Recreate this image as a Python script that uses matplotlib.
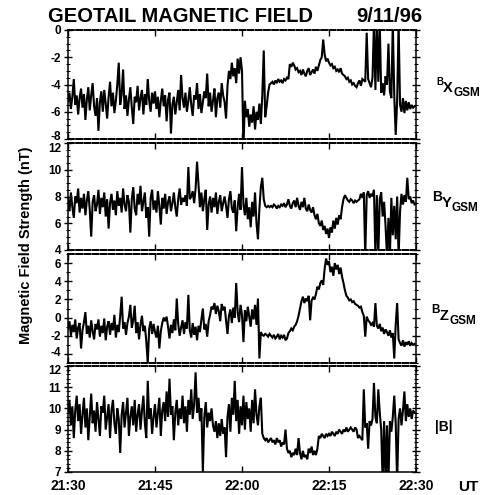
import numpy as np
import matplotlib
matplotlib.use("Agg")
import matplotlib.pyplot as plt
from matplotlib.ticker import MultipleLocator, FixedLocator
import matplotlib.transforms as mtransforms

plt.rcParams['font.family'] = ['Liberation Sans', 'DejaVu Sans']
plt.rcParams['axes.unicode_minus'] = False

# ---- data (minutes after 21:30 UT, 15 s sampling) ----
bx = [
 -5.2,-4.6,-5.8,-4.9,-3.6,-5.5,-4.8,-6.2,-5.0,-4.3,-5.7,-4.7,-6.6,-5.1,-4.2,-5.9,-4.8,-3.9,-5.6,-6.3,
 -5.0,-7.4,-5.3,-4.5,-6.0,-4.4,-5.4,-6.5,-4.9,-3.8,-5.6,-4.6,-6.1,-5.2,-4.0,-2.4,-5.5,-4.7,-2.9,-5.8,
 -4.8,-6.3,-5.1,-4.2,-5.7,-6.9,-4.9,-5.3,-4.1,-5.9,-5.0,-4.4,-6.2,-4.7,-5.5,-3.6,-5.2,-6.0,-4.6,-5.4,
 -4.5,-5.8,-4.9,-6.4,-5.2,-4.3,-5.6,-4.8,-6.7,-5.1,-4.6,-7.6,-5.5,-4.9,-6.2,-5.3,-4.4,-5.9,-3.3,-5.0,
 -5.7,-4.6,-6.0,-5.2,-4.2,-5.5,-6.3,-4.8,-5.1,-3.9,-5.8,-4.7,-6.1,-5.3,-4.5,-5.0,-3.2,-5.6,-4.6,-6.0,
 -5.2,-4.3,-6.4,-5.0,-4.6,-5.7,-3.9,-4.8,-5.3,-6.5,-4.1,-3.0,-3.6,-2.4,-3.4,-2.8,-3.9,-2.1,-3.2,-2.0,
 -3.0,-8.6,-5.2,-6.4,-5.8,-7.1,-6.2,-6.8,-5.6,-7.3,-6.0,-6.6,-5.4,-6.9,-4.8,-1.5,-6.4,-5.6,-4.6,-4.0,
 -3.9,-3.8,-4.0,-3.7,-3.9,-3.6,-3.8,-3.7,-3.9,-3.6,-3.7,-3.5,-3.6,-2.5,-2.7,-2.4,-2.6,-2.9,-2.8,-3.1,
 -3.0,-3.3,-2.9,-3.2,-3.4,-3.0,-2.8,-3.3,-3.1,-2.9,-3.2,-2.7,-3.0,-2.6,-2.2,-2.0,-0.7,-1.8,-2.3,-2.1,
 -2.4,-2.6,-2.5,-2.8,-2.7,-3.0,-2.9,-3.1,-2.8,-3.2,-3.3,-3.4,-3.6,-3.5,-3.8,-3.7,-4.0,-3.9,-4.1,-4.2,
 -3.9,-3.7,-4.1,-3.6,-3.7,-3.8,-0.2,-3.6,-3.9,-4.2,-3.5,0.5,-4.4,0.5,-3.8,0.5,-4.6,-3.9,-4.8,-3.4,
 -4.0,-1.0,-4.5,-5.0,0.5,-4.8,-7.7,-5.2,0.5,-5.5,-6.0,-5.0,-6.1,-5.2,-5.9,-5.3,-5.8,-5.5,-5.7,-5.6,
]
by = [
 7.8,6.9,8.3,7.2,6.4,8.0,7.5,8.6,6.8,7.9,7.1,8.2,6.6,7.7,8.4,7.0,5.0,7.6,8.1,6.9,
 7.4,8.5,6.7,7.9,7.2,8.3,6.5,7.8,5.6,7.5,8.2,7.0,7.7,6.6,8.4,7.3,7.9,6.8,8.6,7.4,
 6.9,8.1,7.6,5.3,7.8,8.7,7.1,6.6,8.2,7.4,8.8,6.9,7.6,8.3,6.4,7.2,5.0,7.9,8.5,7.0,
 7.7,6.8,8.4,7.3,5.9,7.9,7.1,8.2,6.7,7.6,8.0,6.9,7.5,8.3,7.2,6.5,7.8,8.6,7.4,7.9,
 7.6,8.1,7.3,10.2,7.8,8.0,8.4,7.5,8.6,10.6,8.9,7.2,8.3,6.9,7.8,8.5,5.5,7.4,8.0,6.8,
 7.9,7.2,8.3,6.7,7.6,8.1,6.9,7.5,8.0,7.3,6.4,7.8,8.4,7.1,6.8,7.7,5.4,7.2,8.2,7.0,
 10.2,7.4,6.6,7.9,6.3,7.2,5.7,7.6,6.5,8.3,6.0,4.8,7.1,8.7,9.4,7.8,7.3,7.2,7.3,7.2,
 7.3,7.2,7.4,7.3,7.1,7.3,7.2,7.4,7.3,7.5,7.2,7.4,7.8,7.3,7.1,7.5,7.7,7.2,7.9,7.3,
 7.0,7.6,7.2,7.9,7.1,6.9,7.4,7.0,6.8,7.2,6.6,6.3,6.7,6.0,5.8,6.2,5.5,5.8,5.2,5.6,
 4.9,5.7,5.3,6.2,5.6,6.4,5.9,6.6,6.3,7.2,7.8,8.1,7.9,7.7,7.6,7.8,7.7,7.5,7.7,7.6,
 7.7,7.8,8.2,7.9,8.3,3.5,8.1,8.4,7.9,8.2,8.0,8.5,3.5,8.1,3.5,7.8,8.3,6.5,7.6,5.8,
 3.5,6.4,3.5,7.9,5.1,7.3,4.8,8.0,3.5,6.9,8.2,7.4,8.1,7.6,9.4,7.8,8.0,7.5,7.7,7.4,
]
bz = [
 -1.2,-0.4,-2.0,-0.8,-1.6,-0.2,-2.3,-1.1,-0.6,-3.4,-1.4,-0.5,0.6,-1.8,-0.9,-2.2,-0.3,-1.5,-2.4,-0.7,
 -1.3,-0.2,-2.1,-0.9,-1.7,-0.1,-2.5,-1.0,-0.4,-1.9,-0.6,-1.4,0.3,-2.2,-0.8,-1.6,0.2,2.3,-1.2,-0.5,
 -1.9,-0.6,0.1,1.4,-1.1,-0.3,1.3,-1.7,-0.5,-2.4,-0.8,0.2,-1.5,-0.9,-2.6,-5.0,-1.2,-0.4,-1.8,-0.7,
 -1.6,-2.2,-0.9,-3.4,-1.5,-0.6,0.0,-0.4,0.1,-1.0,-2.3,-0.8,-1.7,-0.2,-1.4,2.1,-0.7,-2.0,-1.1,-0.3,
 -1.8,-0.5,-1.2,2.5,-1.4,-2.2,-0.6,-1.9,-1.0,-2.5,-0.9,-1.6,-0.2,1.0,-1.3,-0.7,-2.1,-0.4,0.3,1.2,
 0.9,1.6,0.4,1.3,0.7,-0.4,1.5,0.8,1.2,-0.3,-1.8,0.2,0.9,-0.6,1.1,0.0,3.8,0.6,-0.5,1.4,
 0.3,-2.7,0.8,-0.4,1.2,0.1,-1.0,0.9,-0.2,1.4,-0.8,2.1,-4.5,-1.6,-1.9,-2.0,-1.8,-1.9,-2.1,-1.8,
 -2.0,-2.2,-1.9,-2.3,-2.1,-1.8,-2.4,-2.0,-2.2,-1.9,-2.5,-2.3,-1.7,-1.5,-1.2,-1.4,-1.0,-0.8,-0.4,0.2,
 1.0,1.8,2.3,1.6,2.1,1.8,2.4,-0.3,1.9,2.2,2.0,2.6,3.4,3.1,3.8,4.1,3.6,5.4,6.5,5.8,
 6.2,5.0,5.6,4.6,6.0,5.3,5.8,4.8,5.5,4.5,3.8,3.0,2.4,2.2,1.9,2.0,1.7,1.8,1.5,1.4,
 1.3,1.1,1.2,0.6,0.2,-2.1,0.1,-0.3,-0.5,-0.8,-0.6,-1.0,1.6,-0.9,-1.2,-0.7,-1.5,-1.1,-1.8,-1.3,
 -1.6,-2.0,-1.4,-2.2,-1.7,-4.5,-0.8,1.6,-2.4,-2.8,-3.1,-2.5,-3.2,-2.7,-3.0,-2.6,-3.1,-2.8,-3.0,-2.9,
]
bt = [
 9.8,10.4,9.2,10.1,8.6,9.9,10.6,9.4,10.2,8.8,9.7,10.5,9.1,10.0,8.5,9.6,10.7,9.3,9.9,8.9,
 10.3,9.5,8.7,10.1,9.8,10.6,9.0,9.6,10.2,8.6,9.9,10.4,9.3,8.8,10.0,9.5,7.9,9.7,10.3,9.1,
 9.8,10.5,8.7,9.6,10.1,9.2,10.4,8.9,9.7,10.2,9.0,9.9,10.6,9.3,8.6,11.3,9.5,10.0,8.8,9.6,
 10.2,9.1,9.8,10.5,8.7,9.9,10.3,9.4,10.8,9.6,11.4,9.7,10.1,8.5,9.8,10.4,9.2,10.0,9.5,10.6,
 9.3,10.1,8.9,10.4,9.7,10.9,9.5,10.2,11.7,9.8,10.5,9.4,10.0,7.0,9.6,10.3,9.1,9.8,9.4,10.0,
 9.2,8.9,9.4,8.6,9.3,8.7,9.5,8.8,9.1,7.7,9.6,10.2,8.9,10.5,9.7,11.3,9.4,10.4,8.8,10.1,
 9.2,10.6,9.0,10.3,9.5,10.0,8.9,10.4,9.3,10.9,9.7,9.2,10.1,10.5,8.8,8.6,8.5,8.6,8.4,8.5,
 8.6,8.4,8.5,8.3,8.6,8.4,8.5,8.2,8.4,8.3,9.0,8.1,7.9,8.0,7.7,7.9,7.8,8.1,7.8,8.6,
 7.9,7.6,8.0,7.7,7.8,7.6,8.1,7.9,8.2,7.8,8.0,7.8,8.1,8.7,8.6,8.8,8.7,8.6,8.8,8.7,
 8.8,8.7,8.9,8.8,8.7,8.9,8.8,9.0,8.9,8.8,9.0,8.9,9.1,8.9,9.0,9.1,9.0,8.9,9.1,9.0,
 8.6,8.7,8.6,8.5,10.9,9.1,9.3,8.1,9.4,9.2,9.5,11.2,9.6,9.3,10.9,9.8,9.0,6.5,9.4,6.5,
 9.2,6.5,9.4,8.9,9.6,10.6,9.3,6.5,9.5,10.0,9.2,9.9,10.8,9.4,10.2,9.6,10.0,9.5,9.9,9.8,
]
minutes = np.arange(len(bx)) * 0.25

xtick_minutes = [0, 15, 30, 45, 60]
xtick_labels = ["21:30", "21:45", "22:00", "22:15", "22:30"]

series = [bx, by, bz, bt]
ylims = [(-8, 0), (4, 12), (-5, 7), (7, 12)]
yticks = [[0, -2, -4, -6, -8], [12, 10, 8, 6, 4], [6, 4, 2, 0, -2, -4], [12, 11, 10, 9, 8, 7]]
yminor = [0.5, 0.5, 1.0, 0.2]

# ---- layout ----
W, H = 499, 495
fig = plt.figure(figsize=(W / 100, H / 100), dpi=100)
left_px, right_px = 68, 416
panels_px = [(30, 139), (143, 250), (254, 363), (366, 472)]

def fx(x):
    return x / W

def fy(y):
    return 1 - y / H

axes = []
for i, (top, bot) in enumerate(panels_px):
    ax = fig.add_axes([fx(left_px), fy(bot), fx(right_px - left_px), (bot - top) / H])
    ax.plot(minutes, series[i], color='black', lw=1.5, solid_joinstyle='miter')
    ax.set_xlim(0, 60)
    ax.set_ylim(*ylims[i])
    ax.set_yticks(yticks[i])
    ax.set_yticklabels([str(v) for v in yticks[i]], fontsize=8.5, fontweight='bold')
    ax.yaxis.set_minor_locator(MultipleLocator(yminor[i]))
    ax.xaxis.set_major_locator(FixedLocator(xtick_minutes))
    ax.tick_params(axis='y', which='major', direction='inout', length=6, width=1.0,
                   right=True, pad=2)
    ax.tick_params(axis='y', which='minor', direction='inout', length=3, width=0.8, right=True)
    ax.tick_params(axis='x', which='major', direction='in', length=4, width=1.0,
                   top=True, bottom=True)
    for s in ('left', 'right'):
        ax.spines[s].set_linewidth(1.1)
    for s in ('top', 'bottom'):
        ax.spines[s].set_linewidth(1.4)
        ax.spines[s].set_linestyle((0, (3, 1.2)))
    if i == 3:
        ax.spines['bottom'].set_linestyle('-')
        ax.spines['bottom'].set_linewidth(1.1)
        ax.set_xticklabels(xtick_labels, fontsize=10, fontweight='bold')
        ax.tick_params(axis='x', pad=5)
    else:
        ax.set_xticklabels([])
    axes.append(ax)

# nudge the crowded end labels apart (as in the original, "-8" sits just above "12")
fig.canvas.draw()
def nudge(label, dy_px):
    label.set_transform(label.get_transform() +
                        mtransforms.ScaledTranslation(0, dy_px / 100, fig.dpi_scale_trans))
nudge(axes[0].get_yticklabels()[-1], 3)
nudge(axes[1].get_yticklabels()[0], -4)
nudge(axes[2].get_yticklabels()[-1], 2)
nudge(axes[3].get_yticklabels()[0], -3)

# title
fig.text(fx(48), fy(16), "GEOTAIL MAGNETIC FIELD", fontsize=14.5, fontweight='bold',
         ha='left', va='center')
fig.text(fx(422), fy(16), "9/11/96", fontsize=14.5, fontweight='bold', ha='right', va='center')

# y label
fig.text(fx(26), fy(245), "Magnetic Field Strength (nT)", rotation=90, fontsize=10.5,
         fontweight='bold', ha='center', va='center')

# right-hand component labels
def comp_label(xb, yb, bsize, comp, yc):
    fig.text(fx(xb), fy(yb), "B", fontsize=bsize, fontweight='bold', ha='left', va='center')
    xc = xb + bsize * 1.0
    fig.text(fx(xc), fy(yc), comp, fontsize=10.5, fontweight='bold', ha='left', va='center')
    fig.text(fx(xc + 10), fy(yc + 5), "GSM", fontsize=8.5, fontweight='bold',
             ha='left', va='center')

comp_label(436, 82, 7, "X", 88)
comp_label(432, 197, 10, "Y", 203)
comp_label(431, 310, 8.5, "Z", 316)
fig.text(fx(444), fy(427), "|B|", fontsize=10, fontweight='bold', ha='center', va='center')
fig.text(fx(468), fy(487), "UT", fontsize=11, fontweight='bold', ha='center', va='center')

fig.savefig("out.png", dpi=100)
